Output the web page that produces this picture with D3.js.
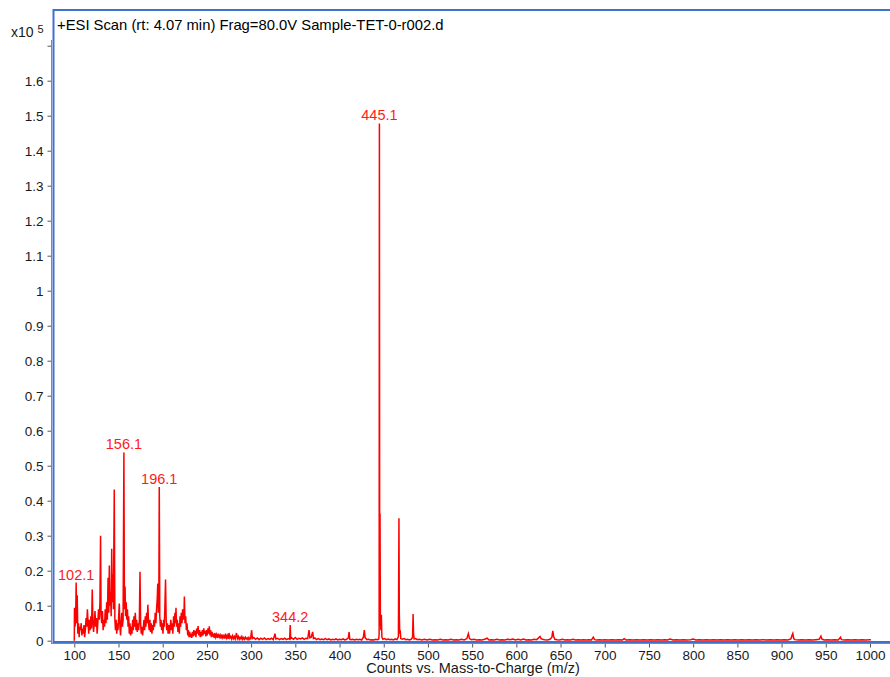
<!DOCTYPE html>
<html>
<head>
<meta charset="utf-8">
<script src="https://cdn.jsdelivr.net/npm/d3@7"></script>
<style>
  body { margin: 0; background: #fff; }
  svg { display: block; font-family: "Liberation Sans", Arial, sans-serif; }
  .tick-label { font-size: 13.5px; fill: #1a1a1a; }
  .peak-label { font-size: 14.5px; fill: #ff1a1a; }
</style>
</head>
<body>
<div id="chart"></div>
<script>
var width = 890, height = 677;

var title = "+ESI Scan (rt: 4.07 min) Frag=80.0V Sample-TET-0-r002.d";
var xTitle = "Counts vs. Mass-to-Charge (m/z)";

// x ticks (m/z) and y ticks (x10^5 counts)
var xTicks = [100,150,200,250,300,350,400,450,500,550,600,650,700,750,800,850,900,950,1000];
var yTicks = [0,0.1,0.2,0.3,0.4,0.5,0.6,0.7,0.8,0.9,1,1.1,1.2,1.3,1.4,1.5,1.6,1.7];

// profile spectrum, [m/z, counts x10^5]
var lowMassProfile = [
  [100.0,0],[100.2,0.094],[100.8,0.04],[101.5,0.06],[102.1,0.166],[102.6,0.05],[103.3,0.13],[104,0.02],
  [104.8,0.05],[105.5,0.01],[106.2,0.04],[107,0.03],[107.8,0.05],[108.6,0.015],[109.3,0.035],[110.1,0.02],
  [111,0.045],[111.7,0.01],[112.5,0.03],[113.3,0.065],[114,0.04],[114.8,0.09],[115.6,0.05],[116.3,0.02],
  [117.1,0.06],[117.9,0.03],[118.7,0.07],[119.5,0.035],[120.3,0.146],[121,0.06],[121.8,0.025],[122.6,0.05],
  [123.4,0.085],[124.2,0.04],[125,0.065],[125.8,0.02],[126.6,0.05],[127.4,0.09],[128.2,0.06],[129,0.11],
  [129.7,0.30],[130.3,0.07],[131,0.05],[131.8,0.085],[132.6,0.03],[133.4,0.06],[134.2,0.04],[135,0.09],
  [135.8,0.05],[136.6,0.11],[137.4,0.06],[138.2,0.18],[139,0.08],[139.6,0.215],[140.3,0.10],[141,0.14],
  [141.7,0.07],[142.3,0.263],[143,0.11],[143.6,0.19],[144.2,0.09],[145.2,0.432],[145.9,0.06],[146.6,0.03],
  [147.3,0.06],[148,0.02],[148.7,0.05],[149.4,0.03],[150.2,0.07],[150.9,0.106],[151.6,0.04],[152.3,0.015],
  [153,0.05],[153.7,0.08],[154.4,0.04],[155.2,0.06],[156.1,0.538],[156.7,0.09],[157.4,0.155],[158,0.07],
  [158.7,0.11],[159.4,0.06],[160.1,0.09],[160.8,0.04],[161.5,0.07],[162.2,0.02],[163,0.05],[163.7,0.015],
  [164.4,0.04],[165.2,0.02],[166,0.06],[166.7,0.03],[167.5,0.07],[168.2,0.04],[169,0.08],[169.8,0.03],
  [170.5,0.06],[171.2,0.025],[172,0.05],[172.8,0.03],[173.6,0.06],[174.3,0.197],[175,0.05],[175.7,0.02],
  [176.5,0.04],[177.2,0.015],[178,0.035],[178.8,0.06],[179.5,0.03],[180.3,0.07],[181,0.04],[181.8,0.08],
  [182.5,0.05],[183.2,0.103],[184,0.05],[184.7,0.03],[185.5,0.06],[186.2,0.025],[187,0.05],[187.8,0.02],
  [188.5,0.045],[189.3,0.03],[190,0.06],[190.8,0.04],[191.5,0.08],[192.3,0.05],[193,0.09],[193.8,0.12],
  [194.4,0.163],[195,0.08],[195.6,0.11],[196.1,0.439],[196.7,0.07],[197.4,0.04],[198.1,0.06],[198.8,0.03],
  [199.5,0.05],[200.3,0.02],[201,0.06],[201.7,0.04],[202.4,0.09],[203.2,0.175],[203.9,0.06],[204.6,0.03],
  [205.4,0.05],[206.1,0.02],[206.9,0.045],[207.7,0.02],[208.5,0.04],[209.2,0.06],[210,0.03],[210.8,0.05],
  [211.5,0.02],[212.3,0.07],[213,0.04],[213.8,0.08],[214.5,0.05],[215,0.094],[215.7,0.04],[216.5,0.06],
  [217.2,0.025],[218,0.05],[218.8,0.02],[219.6,0.07],[220.3,0.04],[221,0.08],[221.8,0.05],[222.5,0.09],
  [223.3,0.06],[224.1,0.08],[224.5,0.126],[225.2,0.05],[226,0.07],[226.8,0.03],[227.5,0.05],[228.3,0.015],
  [229,0.03],[229.8,0.01],[230.5,0.025]
];

var midMassProfile = [
  [231.2,0.01],[232,0.02],[232.8,0.008],[233.6,0.025],[234.4,0.012],[235.2,0.03],[236,0.015],[236.8,0.028],
  [237.6,0.01],[238.4,0.035],[239.2,0.02],[240,0.042],[240.8,0.015],[241.6,0.03],[242.4,0.01],[243.2,0.025],
  [244,0.012],[244.8,0.03],[245.6,0.015],[246.4,0.035],[247.2,0.02],[248,0.028],[248.8,0.012],[249.6,0.03],
  [250.4,0.015],[251.2,0.035],[252,0.02],[252.7,0.041],[253.5,0.015],[254.3,0.03],[255,0.01],[255.8,0.025],
  [256.6,0.012],[257.4,0.02],[258.2,0.008],[259,0.022],[260,0.01],[261,0.018],[262,0.008],[263,0.02],
  [264,0.01],[265,0.016],[266,0.006],[267,0.018],[268,0.008],[269,0.014],[270,0.006],[271,0.02],
  [272,0.008],[273,0.015],[274,0.005],[275,0.022],[276,0.008],[277,0.012],[278,0.005],[279,0.014],
  [280,0.006],[281,0.012],[282,0.005],[283.5,0.022],[284.5,0.006],[285.5,0.012],[286.5,0.004],[287.5,0.01],
  [288.5,0.005],[289.5,0.012],[290.5,0.004],[291.5,0.009],[292.5,0.004],[293.5,0.01],[294.5,0.005],[295.5,0.008],
  [296.5,0.003],[297.5,0.009],[298.5,0.004],[299.5,0.008],[300.6,0.03],[301.4,0.006],[303,0.009],[305,0.004],
  [307,0.008],[309,0.003],[311,0.007],[313,0.004],[315,0.008],[317,0.003],[319,0.006],[321,0.004],
  [323,0.007],[325,0.003],[327,0.02],[328,0.005],[330,0.007],[332,0.003],[334,0.006],[336,0.004],
  [338,0.007],[340,0.003],[342,0.006],[343.6,0.004],[344.2,0.045],[344.8,0.006],[346,0.008],[348,0.004],
  [350,0.009],[352,0.004],[354,0.007],[356,0.005],[358,0.008],[360,0.004],[362,0.007],[364,0.006],
  [365.5,0.03],[366.5,0.008],[368,0.01],[369.6,0.025],[370.5,0.006],[372,0.008],[374,0.003],[376,0.006],
  [378,0.003],[380,0.005],[382,0.003],[384,0.006],[386,0.003],[388,0.005],[390,0.002],[392,0.004],
  [394,0.003],[396,0.005],[398,0.002],[400,0.004],[402,0.003],[404,0.005],[406,0.002],[408,0.004],
  [410,0.008],[410.8,0.025],[411.6,0.004],[413,0.003],[415,0.004],[417,0.002],[419,0.004],[421,0.003],
  [423,0.004],[425,0.002],[427,0.01],[428,0.03],[429,0.008],[431,0.003],[433,0.004],[435,0.002],
  [437,0.003],[439,0.002],[441,0.004],[443,0.003],[444.4,0.005]
];

var mainPeakProfile = [
  [444.8,0.02],[445.1,1.478],[445.4,0.25],[445.8,0.363],[446.2,0.06],[446.8,0.03],[447.3,0.074],[447.9,0.01],
  [449,0.004],[451,0.006],[453,0.003],[455,0.005],[457,0.003],[459,0.004],[461,0.002],[463,0.005],
  [465,0.003],[466.6,0.012],[467.2,0.35],[467.6,0.08],[468.1,0.02],[468.6,0.03],[469.3,0.006],[471,0.004],
  [473,0.006],[475,0.003],[477,0.004],[479,0.002],[481,0.004],[482.6,0.01],[483.2,0.076],[483.7,0.02],
  [484.4,0.005],[486,0.006],[488,0.003],[490,0.004]
];

var highMassProfile = [
  [493,0.002],[496,0.004],[499,0.002],[502,0.004],[505,0.002],[508,0.003],[511,0.002],[514,0.004],
  [517,0.002],[520,0.003],[523,0.002],[526,0.004],[529,0.002],[532,0.003],[535,0.002],[538,0.004],
  [541,0.002],[544,0.006],[545.7,0.02],[547,0.006],[549,0.003],[552,0.004],[555,0.002],[558,0.003],
  [561,0.002],[564,0.004],[567,0.007],[569,0.002],[572,0.003],[575,0.002],[578,0.004],[581,0.002],
  [584,0.003],[587,0.002],[590,0.004],[593,0.003],[596,0.005],[599,0.002],[602,0.004],[605,0.002],
  [608,0.005],[611,0.002],[614,0.003],[617,0.002],[620,0.004],[623,0.003],[626.8,0.012],[628,0.006],
  [629.5,0.004],[632,0.003],[635,0.002],[638,0.004],[640.2,0.01],[641.2,0.028],[642.2,0.012],[643.5,0.004],
  [646,0.003],[649,0.002],[652,0.004],[655,0.002],[658,0.003],[661,0.002],[664,0.004],[667,0.002],
  [670,0.003],[673,0.002],[676,0.003],[679,0.002],[682,0.003],[685,0.002],[687,0.01],[688.5,0.003],
  [691,0.002],[694,0.003],[697,0.002],[700,0.003],[704,0.002],[708,0.003],[712,0.002],[716,0.003],
  [720,0.002],[722,0.006],[724,0.002],[728,0.003],[732,0.002],[736,0.003],[740,0.002],[744,0.003],
  [748,0.002],[752,0.003],[756,0.002],[760,0.003],[764,0.002],[768,0.003],[771,0.002],[774,0.005],
  [777,0.002],[781,0.003],[785,0.002],[789,0.003],[793,0.002],[797,0.003],[800,0.005],[803,0.002],
  [807,0.003],[811,0.002],[815,0.003],[819,0.002],[823,0.003],[827,0.002],[831,0.003],[835,0.002],
  [839,0.003],[843,0.002],[847,0.003],[851,0.002],[855,0.003],[859,0.002],[863,0.003],[867,0.002],
  [871,0.003],[875,0.002],[879,0.003],[883,0.002],[887,0.003],[891,0.002],[895,0.003],[899,0.002],
  [903,0.003],[907,0.002],[910.5,0.005],[911.7,0.015],[912.7,0.021],[913.7,0.006],[915,0.003],[919,0.002],
  [923,0.003],[927,0.002],[931,0.003],[935,0.002],[939,0.003],[942.5,0.004],[944.5,0.013],[945.5,0.005],
  [948,0.002],[952,0.003],[956,0.002],[960,0.003],[964,0.002],[966.7,0.01],[967.7,0.003],[971,0.002],
  [975,0.003],[979,0.002],[983,0.003],[987,0.002],[991,0.003],[995,0.002],[1000,0.003],[1001,0.002]
];

// labelled peaks (m/z as printed)
var peakLabels = [102.1, 156.1, 196.1, 344.2, 445.1];

var spectrum = lowMassProfile.concat(midMassProfile, mainPeakProfile, highMassProfile);

var frameLeft = 53.5, frameTop = 10, frameBottom = 642, frameRight = 890;

var x = d3.scaleLinear()
  .domain([100, 1000])
  .range([74.3, 870]);

var y = d3.scaleLinear()
  .domain([0, 1.6])
  .range([640.7, 80.7]);

var svg = d3.select("#chart").append("svg")
  .attr("width", width)
  .attr("height", height);

// spectrum trace
var line = d3.line()
  .x(function(d) { return x(d[0]); })
  .y(function(d) { return y(d[1]); });

svg.append("path")
  .datum(spectrum)
  .attr("fill", "none")
  .attr("stroke", "#ff0000")
  .attr("stroke-width", 1.5)
  .attr("d", line);

// grey axes
var yAxis = d3.axisLeft(y)
  .tickValues(yTicks)
  .tickSize(4)
  .tickPadding(4)
  .tickFormat(function(d) { return d > 1.65 ? "" : String(+d.toFixed(1)); });

var yAxisG = svg.append("g")
  .attr("transform", "translate(51.5,0)")
  .call(yAxis);

var xAxis = d3.axisBottom(x)
  .tickValues(xTicks)
  .tickSize(4)
  .tickPadding(3)
  .tickFormat(function(d) { return String(d); });

var xAxisG = svg.append("g")
  .attr("transform", "translate(0,643.5)")
  .call(xAxis);

[yAxisG, xAxisG].forEach(function(g) {
  g.select(".domain").remove();
  g.selectAll(".tick line").attr("stroke", "#555");
  g.selectAll(".tick text")
    .attr("class", "tick-label")
    .attr("font-family", null)
    .attr("font-size", null);
});

svg.append("line")
  .attr("x1", 51.5).attr("x2", 51.5)
  .attr("y1", 40).attr("y2", 644)
  .attr("stroke", "#888").attr("stroke-width", 1);
svg.append("line")
  .attr("x1", 51).attr("x2", frameRight)
  .attr("y1", 643.5).attr("y2", 643.5)
  .attr("stroke", "#888").attr("stroke-width", 1);

// blue frame
var frameColor = "#3f71cf";
svg.append("line")
  .attr("x1", frameLeft).attr("x2", frameLeft)
  .attr("y1", frameTop - 1).attr("y2", frameBottom + 1)
  .attr("stroke", frameColor).attr("stroke-width", 2);
svg.append("line")
  .attr("x1", frameLeft).attr("x2", frameRight)
  .attr("y1", frameTop).attr("y2", frameTop)
  .attr("stroke", frameColor).attr("stroke-width", 2);
svg.append("line")
  .attr("x1", frameLeft).attr("x2", frameRight)
  .attr("y1", frameBottom).attr("y2", frameBottom)
  .attr("stroke", frameColor).attr("stroke-width", 2);

// peak labels
svg.selectAll(".peak-label")
  .data(peakLabels)
  .enter().append("text")
  .attr("class", "peak-label")
  .attr("text-anchor", "middle")
  .attr("x", function(d) { return x(d); })
  .attr("y", function(d) {
    var p = spectrum.filter(function(s) { return s[0] === d; })[0];
    return y(p[1]) - 3;
  })
  .text(function(d) { return d.toFixed(1); });

// titles
svg.append("text")
  .attr("x", 57)
  .attr("y", 30)
  .style("font-size", "14.8px")
  .style("fill", "#000")
  .text(title);

var scaleLabel = svg.append("text")
  .attr("x", 11)
  .attr("y", 37)
  .style("font-size", "14px")
  .style("fill", "#1a1a1a")
  .text("x10");
scaleLabel.append("tspan")
  .attr("dx", 4)
  .attr("dy", -4)
  .style("font-size", "11px")
  .text("5");

svg.append("text")
  .attr("x", 473)
  .attr("y", 673)
  .attr("text-anchor", "middle")
  .style("font-size", "14.5px")
  .style("fill", "#1a1a1a")
  .text(xTitle);
</script>
</body>
</html>
